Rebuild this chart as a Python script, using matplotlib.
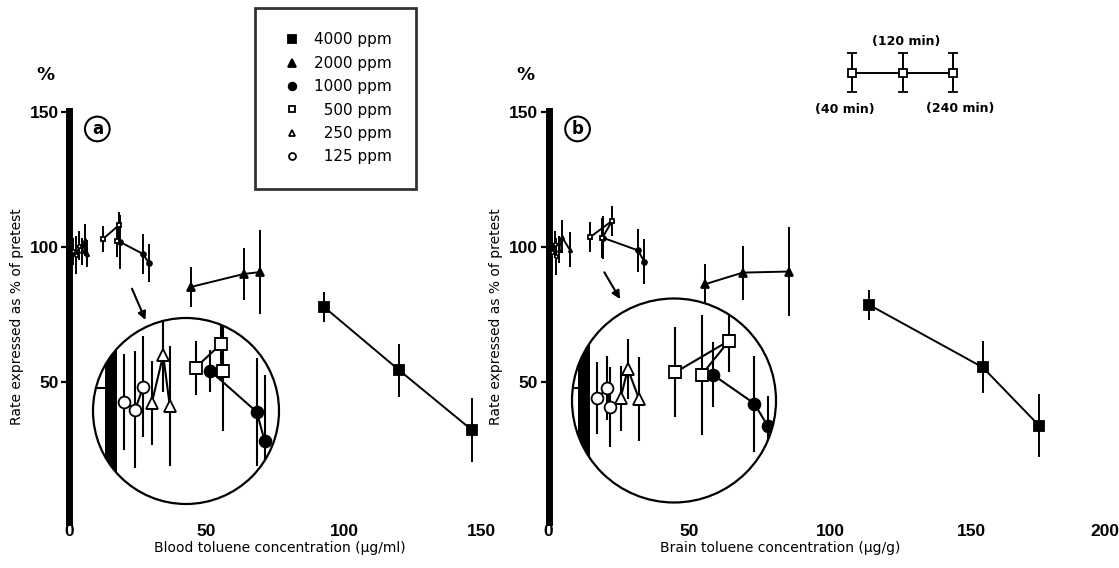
import matplotlib
matplotlib.use('Agg')
import matplotlib.pyplot as plt
from matplotlib.patches import Circle
from matplotlib.lines import Line2D
from matplotlib.transforms import ScaledTranslation
from matplotlib import font_manager

# ---------------- data ----------------
# panel a : blood toluene (ug/ml) vs rate (% of pretest), points at 40/120/240 min
a_4000_x = [92.7, 120.0, 146.5]
a_4000_y = [77.8, 54.4, 32.2]
a_4000_e = [5.5, 9.8, 11.7]
a_2000_x = [44.4, 63.6, 69.5]
a_2000_y = [85.2, 90.0, 90.7]
a_2000_e = [7.5, 9.5, 15.5]
a_1000_x = [18.5, 26.9, 29.1]
a_1000_y = [101.9, 97.4, 94.0]
a_1000_e = [10.0, 7.5, 7.0]
a_500_x = [12.4, 18.2, 17.5]
a_500_y = [103.0, 108.1, 102.2]
a_500_e = [4.8, 5.0, 6.0]
a_250_x = [4.8, 5.8, 6.4]
a_250_y = [98.5, 102.6, 97.5]
a_250_e = [5.0, 6.0, 5.0]
a_125_x = [1.5, 2.7, 3.8]
a_125_y = [98.5, 97.0, 100.5]
a_125_e = [5.0, 7.0, 5.5]

# panel b : brain toluene (ug/g)
b_4000_x = [113.8, 154.0, 174.0]
b_4000_y = [78.5, 55.4, 33.8]
b_4000_e = [5.7, 9.6, 11.7]
b_2000_x = [55.5, 68.9, 85.4]
b_2000_y = [86.2, 90.5, 90.9]
b_2000_e = [7.5, 10.0, 16.5]
b_1000_x = [19.3, 31.8, 33.9]
b_1000_y = [103.4, 98.7, 94.6]
b_1000_e = [8.0, 8.0, 8.5]
b_500_x = [14.7, 22.6, 19.1]
b_500_y = [103.6, 109.7, 103.4]
b_500_e = [5.5, 5.5, 7.5]
b_250_x = [3.8, 4.7, 7.6]
b_250_y = [99.0, 103.8, 98.9]
b_250_e = [5.0, 6.0, 6.5]
b_125_x = [1.2, 2.2, 2.8]
b_125_y = [98.0, 101.0, 96.5]
b_125_e = [6.0, 5.0, 7.0]

# magnified (circular inset) views, in the inset's own units
ia_125_x = [2.2, 4.0, 5.4]
ia_125_y = [97.7, 96.4, 100.2]
ia_125_e = [8.0, 9.8, 8.4]
ia_250_x = [6.8, 8.7, 9.8]
ia_250_y = [97.5, 105.5, 97.0]
ia_250_e = [7.0, 6.2, 10.0]
ia_500_x = [14.1, 18.3, 18.6]
ia_500_y = [103.4, 107.3, 102.9]
ia_500_e = [4.5, 6.0, 10.0]
ia_1000_x = [16.5, 24.3, 25.6]
ia_1000_y = [102.9, 96.0, 91.2]
ia_1000_e = [3.5, 9.0, 11.0]

ib_125_x = [2.1, 3.9, 4.3]
ib_125_y = [98.3, 100.0, 96.8]
ib_125_e = [6.0, 5.3, 6.7]
ib_250_x = [6.1, 7.3, 9.2]
ib_250_y = [98.3, 103.2, 98.1]
ib_250_e = [5.4, 5.0, 7.0]
ib_500_x = [15.2, 24.2, 19.6]
ib_500_y = [102.6, 107.9, 102.2]
ib_500_e = [7.5, 5.3, 10.0]
ib_1000_x = [21.5, 28.4, 30.6]
ib_1000_y = [102.2, 97.4, 93.7]
ib_1000_e = [5.4, 8.0, 5.0]

ppm_labels = ['4000 ppm', '2000 ppm', '1000 ppm', '500 ppm', '250 ppm', '125 ppm']
key_x = [0, 1, 2]
key_y = [0, 0, 0]
key_e = [1, 1, 1]
key_labels = ['(40 min)', '(120 min)', '(240 min)']

a_xticks = [0, 50, 100, 150]
b_xticks = [0, 50, 100, 150, 200]
yticks = [50, 100, 150]

# marker style per exposure: (marker, filled)
styles = {'4000 ppm': ('s', True), '2000 ppm': ('^', True), '1000 ppm': ('o', True),
          '500 ppm': ('s', False), '250 ppm': ('^', False), '125 ppm': ('o', False)}

_installed = {f.name for f in font_manager.fontManager.ttflist}
NUM_FONT = 'Liberation Sans Narrow' if 'Liberation Sans Narrow' in _installed else 'Liberation Sans'
plt.rcParams['font.family'] = ['DejaVu Sans']

W, H = 1119, 568
fig = plt.figure(figsize=(W / 100, H / 100), dpi=100)


def px_axes(left, top, width, height):
	"""Axes placed with pixel coordinates measured from the top left corner."""
	return fig.add_axes([left / W, (H - top - height) / H, width / W, height / H])


def draw_series(ax, x, y, e, label, ms, lw=1.4, clip=None):
	marker, filled = styles[label]
	eb = ax.errorbar(x, y, yerr=e, fmt='none', ecolor='k', elinewidth=lw, capsize=0, zorder=3)
	ln, = ax.plot(x, y, '-', color='k', lw=lw, marker=marker, ms=ms,
				  mfc='k' if filled else 'white', mec='k', mew=1.3, zorder=4)
	if clip is not None:
		ln.set_clip_path(clip)
		for c in eb.lines[2]:
			c.set_clip_path(clip)


# main axes: y 150 at px 112, 2.7 px per %; panel a 2.75 px per ug/ml, panel b 2.82 px per ug/g
ax_a = px_axes(69, 110.6, 155 * 2.75, 152.5 * 2.7)
ax_b = px_axes(548.5, 110.6, 201 * 2.82, 152.5 * 2.7)
ax_a.set_xlim(0, 155)
ax_b.set_xlim(0, 201)

panels = [
	(ax_a, a_xticks, 'Blood toluene concentration (µg/ml)', 0.495, 'a',
	 [(a_4000_x, a_4000_y, a_4000_e, 6.5), (a_2000_x, a_2000_y, a_2000_e, 6),
	  (a_1000_x, a_1000_y, a_1000_e, 3.5), (a_500_x, a_500_y, a_500_e, 3.5),
	  (a_250_x, a_250_y, a_250_e, 2.5), (a_125_x, a_125_y, a_125_e, 2.5)]),
	(ax_b, b_xticks, 'Brain toluene concentration (µg/g)', 0.408, 'b',
	 [(b_4000_x, b_4000_y, b_4000_e, 6.5), (b_2000_x, b_2000_y, b_2000_e, 6),
	  (b_1000_x, b_1000_y, b_1000_e, 3.5), (b_500_x, b_500_y, b_500_e, 3.5),
	  (b_250_x, b_250_y, b_250_e, 2.5), (b_125_x, b_125_y, b_125_e, 2.5)]),
]

for ax, xt, xlabel, xlab_pos, letter, series in panels:
	for (x, y, e, ms), lab in zip(series, ppm_labels):
		draw_series(ax, x, y, e, lab, ms)
	ax.set_ylim(-2, 150.5)
	for s in ('top', 'right', 'bottom'):
		ax.spines[s].set_visible(False)
	ax.spines['left'].set_linewidth(5)
	ax.patch.set_visible(False)
	ax.set_xticks(xt)
	ax.set_yticks(yticks)
	ax.tick_params(axis='y', direction='out', length=6, width=1.6, pad=1.5)
	ax.tick_params(axis='x', length=0, pad=1.5)
	for t in ax.get_xticklabels() + ax.get_yticklabels():
		t.set_fontfamily([NUM_FONT, 'DejaVu Sans'])
		t.set_fontweight('bold')
		t.set_fontsize(12.5)
	ax.set_xlabel(xlabel, fontsize=10)
	ax.xaxis.set_label_coords(xlab_pos, -0.045)
	ax.set_ylabel('Rate expressed as % of pretest', fontsize=10, labelpad=4)
	ax.text(-8.4 if letter == 'a' else -8.2, 163.7, '%', fontsize=13, fontweight='bold',
			ha='center', va='center', clip_on=False)
	ax.text(10.3, 143.7, letter, fontsize=12, fontweight='bold', ha='center', va='center',
			bbox=dict(boxstyle='circle,pad=0.2', fc='white', ec='k', lw=1.5))

# the last label of panel b sits at the very edge of the page: nudge it in a little
last = ax_b.get_xticklabels()[-1]
last.set_transform(last.get_transform() + ScaledTranslation(-8 / 100, 0, fig.dpi_scale_trans))

# arrows pointing to the magnified views
ax_a.annotate('', xy=(28.2, 72.0), xytext=(22.5, 85.5),
			  arrowprops=dict(arrowstyle='-|>', color='k', lw=1.5, mutation_scale=12))
ax_b.annotate('', xy=(25.9, 79.8), xytext=(19.3, 91.5),
			  arrowprops=dict(arrowstyle='-|>', color='k', lw=1.5, mutation_scale=12))

# circular magnified insets
insets = [
	((93, 318, 186), (-3, 28), (80.67, 111.67),
	 [(ia_1000_x, ia_1000_y, ia_1000_e), (ia_500_x, ia_500_y, ia_500_e),
	  (ia_250_x, ia_250_y, ia_250_e), (ia_125_x, ia_125_y, ia_125_e)]),
	((572, 298.5, 204), (-2, 32), (80.92, 114.92),
	 [(ib_1000_x, ib_1000_y, ib_1000_e), (ib_500_x, ib_500_y, ib_500_e),
	  (ib_250_x, ib_250_y, ib_250_e), (ib_125_x, ib_125_y, ib_125_e)]),
]

for (left, top, size), xl, yl, series in insets:
	ax_in = px_axes(left, top, size, size)
	ax_in.set_zorder(5)
	ax_in.axis('off')
	bg = Circle((0.5, 0.5), 0.5, transform=ax_in.transAxes, fc='white', ec='none', zorder=0)
	ax_in.add_patch(bg)
	clip = Circle((0.5, 0.5), 0.5, transform=ax_in.transAxes)
	bar = ax_in.axvline(0, color='k', lw=8.6, zorder=1)
	bar.set_clip_path(clip)
	tick, = ax_in.plot([xl[0], 0], [100, 100], color='k', lw=1.5, zorder=1)
	tick.set_clip_path(clip)
	for (x, y, e), lab in zip(series, ppm_labels[2:]):
		draw_series(ax_in, x, y, e, lab, ms=8.5, lw=1.5, clip=clip)
	ax_in.add_patch(Circle((0.5, 0.5), 0.5, transform=ax_in.transAxes, fill=False,
						   ec='k', lw=1.6, zorder=10, clip_on=False))
	ax_in.set_xlim(*xl)
	ax_in.set_ylim(*yl)

# legend box of exposure levels
handles = []
for lab in ppm_labels:
	m, filled = styles[lab]
	handles.append(Line2D([], [], ls='none', marker=m, ms=5.5 if filled else 5,
						  mfc='k' if filled else 'white', mec='k', mew=1.3))
leg_labels = [l if len(l) == 8 else '\u2007' + l for l in ppm_labels]
leg = fig.legend(handles, leg_labels, loc='upper left', bbox_to_anchor=(255 / W, 1 - 8 / H),
				 fontsize=11, frameon=True, fancybox=False, borderpad=1.6, labelspacing=0.55,
				 handlelength=1.7, handletextpad=0.55, borderaxespad=0)
leg.get_frame().set_edgecolor('k')
leg.get_frame().set_linewidth(2)

# time key (panel b)
ax_k = px_axes(827, 24, 151, 97.5)
ax_k.axis('off')
ax_k.errorbar(key_x, key_y, yerr=key_e, fmt='-s', color='k', lw=1.4, elinewidth=1.4,
			  capsize=3.6, capthick=1.4, ms=6, mfc='white', mec='k', mew=1.3)
ax_k.set_xlim(-0.5, 2.5)
ax_k.set_ylim(-2.5, 2.5)
key_pos = [(-0.14, -1.9), (1.07, 1.58), (2.15, -1.81)]
for (tx, ty), t in zip(key_pos, key_labels):
	ax_k.text(tx, ty, t, fontsize=9, fontweight='bold', ha='center', va='center')

fig.savefig('out.png', dpi=100)
